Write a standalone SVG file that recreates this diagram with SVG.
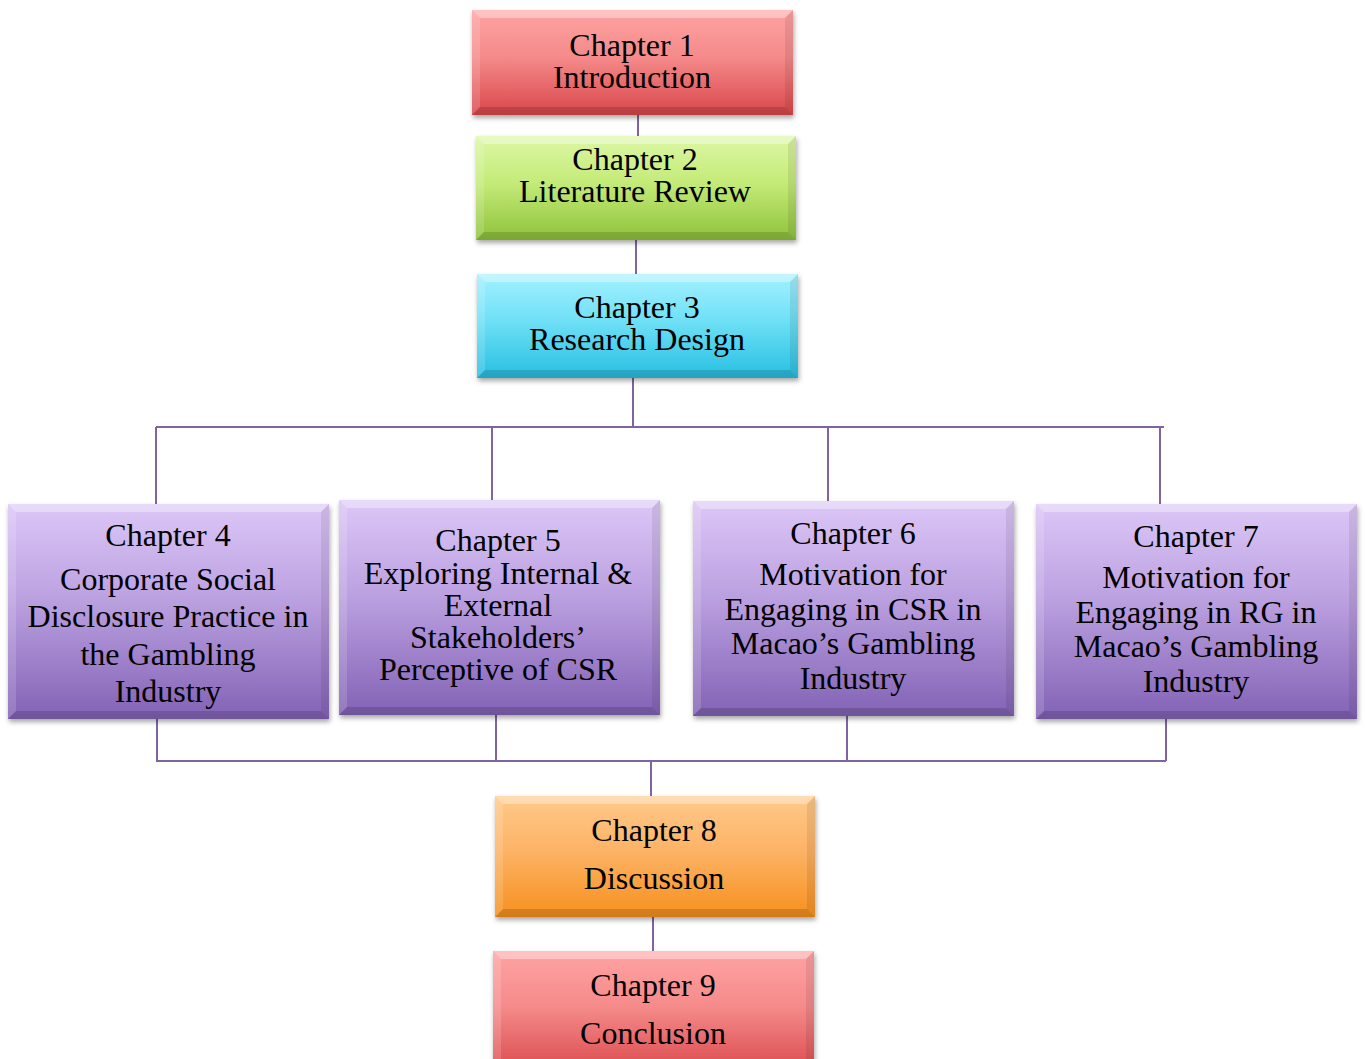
<svg xmlns="http://www.w3.org/2000/svg" width="1365" height="1059" viewBox="0 0 1365 1059">
<defs>
<linearGradient id="gRed" x1="0" y1="0" x2="0" y2="1"><stop offset="0" stop-color="#FFA3A3"/><stop offset="0.45" stop-color="#F58A8A"/><stop offset="1" stop-color="#D9474A"/></linearGradient>
<linearGradient id="gGreen" x1="0" y1="0" x2="0" y2="1"><stop offset="0" stop-color="#DDF7A6"/><stop offset="0.45" stop-color="#C4EB78"/><stop offset="1" stop-color="#8FC23B"/></linearGradient>
<linearGradient id="gCyan" x1="0" y1="0" x2="0" y2="1"><stop offset="0" stop-color="#A4F1FF"/><stop offset="0.45" stop-color="#6FE0F6"/><stop offset="1" stop-color="#27BFE2"/></linearGradient>
<linearGradient id="gPurple" x1="0" y1="0" x2="0" y2="1"><stop offset="0" stop-color="#DCC7F7"/><stop offset="0.45" stop-color="#BBA0E0"/><stop offset="1" stop-color="#8262B5"/></linearGradient>
<linearGradient id="gOrange" x1="0" y1="0" x2="0" y2="1"><stop offset="0" stop-color="#FFC98A"/><stop offset="0.45" stop-color="#FDB366"/><stop offset="1" stop-color="#F6901E"/></linearGradient>
<filter id="shadow" x="-5%" y="-5%" width="110%" height="120%"><feDropShadow dx="1" dy="3" stdDeviation="2.5" flood-color="#000" flood-opacity="0.35"/></filter>
</defs>
<style>
.t{font-family:"Liberation Serif","Times New Roman",serif;font-size:32px;fill:#000;text-anchor:middle}
.c{fill:none;stroke:#8064A2;stroke-width:2}
.hi{fill:#fff;opacity:0.35}
.hl{fill:#fff;opacity:0.15}
.sd{fill:#000;opacity:0.08}
.sb{fill:#000;opacity:0.14}
</style>
<rect width="1365" height="1059" fill="#fff"/>
<g id="connectors">
<path class="c" d="M638 115V136M636 240V274M633 378V427M156 427H1164M156 427V504M492 427V500M828 427V501M1160 427V504"/>
<path class="c" d="M157 719V761M496 715V761M847 716V761M1166 719V761M156 761H1166M651 761V796M653 917V951"/>
</g>
<g id="ch1">
<rect x="472" y="10" width="321" height="105" fill="url(#gRed)" filter="url(#shadow)"/>
<polygon class="hi" points="472,10 793,10 785,18 480,18"/><polygon class="hl" points="472,10 480,18 480,107 472,115"/><polygon class="sd" points="793,10 793,115 785,107 785,18"/><polygon class="sb" points="472,115 793,115 785,107 480,107"/>
<text class="t" x="632" y="56">Chapter 1</text><text class="t" x="632" y="88">Introduction</text>
</g>
<g id="ch2">
<rect x="476" y="136" width="320" height="104" fill="url(#gGreen)" filter="url(#shadow)"/>
<polygon class="hi" points="476,136 796,136 788,144 484,144"/><polygon class="hl" points="476,136 484,144 484,232 476,240"/><polygon class="sd" points="796,136 796,240 788,232 788,144"/><polygon class="sb" points="476,240 796,240 788,232 484,232"/>
<text class="t" x="635" y="170">Chapter 2</text><text class="t" x="635" y="202">Literature Review</text>
</g>
<g id="ch3">
<rect x="477" y="274" width="321" height="104" fill="url(#gCyan)" filter="url(#shadow)"/>
<polygon class="hi" points="477,274 798,274 790,282 485,282"/><polygon class="hl" points="477,274 485,282 485,370 477,378"/><polygon class="sd" points="798,274 798,378 790,370 790,282"/><polygon class="sb" points="477,378 798,378 790,370 485,370"/>
<text class="t" x="637" y="318">Chapter 3</text><text class="t" x="637" y="350">Research Design</text>
</g>
<g id="ch4">
<rect x="8" y="504" width="321" height="215" fill="url(#gPurple)" filter="url(#shadow)"/>
<polygon class="hi" points="8,504 329,504 321,512 16,512"/><polygon class="hl" points="8,504 16,512 16,711 8,719"/><polygon class="sd" points="329,504 329,719 321,711 321,512"/><polygon class="sb" points="8,719 329,719 321,711 16,711"/>
<text class="t" x="168" y="546">Chapter 4</text><text class="t" x="168" y="590">Corporate Social</text><text class="t" x="168" y="627">Disclosure Practice in</text><text class="t" x="168" y="665">the Gambling</text><text class="t" x="168" y="702">Industry</text>
</g>
<g id="ch5">
<rect x="339" y="500" width="321" height="215" fill="url(#gPurple)" filter="url(#shadow)"/>
<polygon class="hi" points="339,500 660,500 652,508 347,508"/><polygon class="hl" points="339,500 347,508 347,707 339,715"/><polygon class="sd" points="660,500 660,715 652,707 652,508"/><polygon class="sb" points="339,715 660,715 652,707 347,707"/>
<text class="t" x="498" y="551">Chapter 5</text><text class="t" x="498" y="584">Exploring Internal &amp;</text><text class="t" x="498" y="616">External</text><text class="t" x="498" y="648">Stakeholders’</text><text class="t" x="498" y="680">Perceptive of CSR</text>
</g>
<g id="ch6">
<rect x="693" y="501" width="321" height="215" fill="url(#gPurple)" filter="url(#shadow)"/>
<polygon class="hi" points="693,501 1014,501 1006,509 701,509"/><polygon class="hl" points="693,501 701,509 701,708 693,716"/><polygon class="sd" points="1014,501 1014,716 1006,708 1006,509"/><polygon class="sb" points="693,716 1014,716 1006,708 701,708"/>
<text class="t" x="853" y="544">Chapter 6</text><text class="t" x="853" y="585">Motivation for</text><text class="t" x="853" y="620">Engaging in CSR in</text><text class="t" x="853" y="654">Macao’s Gambling</text><text class="t" x="853" y="689">Industry</text>
</g>
<g id="ch7">
<rect x="1036" y="504" width="321" height="215" fill="url(#gPurple)" filter="url(#shadow)"/>
<polygon class="hi" points="1036,504 1357,504 1349,512 1044,512"/><polygon class="hl" points="1036,504 1044,512 1044,711 1036,719"/><polygon class="sd" points="1357,504 1357,719 1349,711 1349,512"/><polygon class="sb" points="1036,719 1357,719 1349,711 1044,711"/>
<text class="t" x="1196" y="547">Chapter 7</text><text class="t" x="1196" y="588">Motivation for</text><text class="t" x="1196" y="623">Engaging in RG in</text><text class="t" x="1196" y="657">Macao’s Gambling</text><text class="t" x="1196" y="692">Industry</text>
</g>
<g id="ch8">
<rect x="495" y="796" width="320" height="121" fill="url(#gOrange)" filter="url(#shadow)"/>
<polygon class="hi" points="495,796 815,796 807,804 503,804"/><polygon class="hl" points="495,796 503,804 503,909 495,917"/><polygon class="sd" points="815,796 815,917 807,909 807,804"/><polygon class="sb" points="495,917 815,917 807,909 503,909"/>
<text class="t" x="654" y="841">Chapter 8</text><text class="t" x="654" y="889">Discussion</text>
</g>
<g id="ch9">
<rect x="493" y="951" width="321" height="125" fill="url(#gRed)" filter="url(#shadow)"/>
<polygon class="hi" points="493,951 814,951 806,959 501,959"/><polygon class="hl" points="493,951 501,959 501,1076 493,1076"/><polygon class="sd" points="814,951 814,1076 806,1076 806,959"/>
<text class="t" x="653" y="996">Chapter 9</text><text class="t" x="653" y="1044">Conclusion</text>
</g>
</svg>
